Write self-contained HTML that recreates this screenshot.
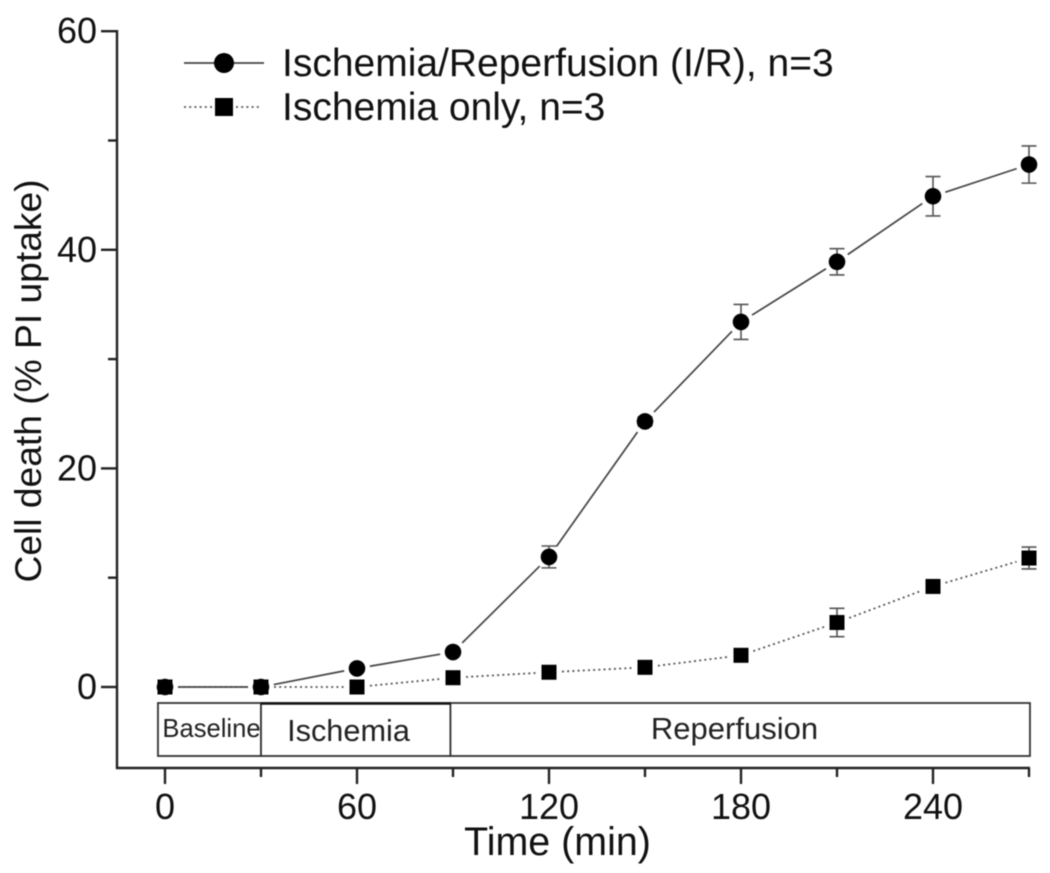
<!DOCTYPE html>
<html lang="en">
<head>
<meta charset="utf-8">
<title>Cell death over time</title>
<style>
html,body{margin:0;padding:0;background:#fff;width:1050px;height:873px;overflow:hidden}
svg{display:block;font-family:"Liberation Sans",sans-serif;filter:blur(0.5px)}
</style>
</head>
<body>
<svg id="chart" width="1050" height="873" viewBox="0 0 1050 873"></svg>
<script>
const times = [0, 30, 60, 90, 120, 150, 180, 210, 240, 270];
const irValues = [0, 0, 1.7, 3.2, 11.9, 24.3, 33.4, 38.9, 44.9, 47.8];
const irErrors = [0, 0, 0, 0, 1, 0.4, 1.6, 1.2, 1.8, 1.7];
const ischemiaValues = [0, 0, 0, 0.85, 1.35, 1.8, 2.9, 5.9, 9.2, 11.8];
const ischemiaErrors = [0, 0, 0, 0, 0, 0, 0, 1.3, 0.5, 1];
const xMajorTicks = [0, 60, 120, 180, 240];
const xMinorTicks = [30, 90, 150, 210, 270];
const yMajorTicks = [0, 20, 40, 60];
const yMinorTicks = [10, 30, 50];
const phaseNames = ["Baseline", "Ischemia", "Reperfusion"];
const phaseEdges = [-2.2, 30, 89.2, 270.3];
const seriesNames = ["Ischemia/Reperfusion (I/R), n=3", "Ischemia only, n=3"];

const NS = "http://www.w3.org/2000/svg";
const svg = document.getElementById("chart");
const xScale = t => 165 + t * 3.2;
const yScale = v => 687 - v * 10.93;
const axisLeft = 117, axisBottom = 768, axisTop = 31;

function add(tag, attrs, text, parent) {
  const el = document.createElementNS(NS, tag);
  for (const k in attrs) el.setAttribute(k, attrs[k]);
  if (text !== undefined) el.textContent = text;
  (parent || svg).appendChild(el);
  return el;
}

/* Axes */
const axisStyle = {stroke: "#222", "stroke-width": 2.4, fill: "none"};
const yAxis = add("line", Object.assign({x1: axisLeft, x2: axisLeft, y1: axisTop - 1, y2: axisBottom + 1}, axisStyle));


const xAxis = add("line", Object.assign({x1: axisLeft - 1, x2: xScale(270) + 1, y1: axisBottom, y2: axisBottom}, axisStyle));



xMajorTicks.forEach(t => {
  const tick = add("line", Object.assign({x1: xScale(t), x2: xScale(t), y1: axisBottom, y2: axisBottom + 16}, axisStyle));
  
  
  const label = add("text", {x: xScale(t), y: 819, "text-anchor": "middle", "font-size": 36, fill: "#111"}, String(t));
  
  
});
xMinorTicks.forEach(t => {
  const tick = add("line", Object.assign({x1: xScale(t), x2: xScale(t), y1: axisBottom, y2: axisBottom + 9}, axisStyle));
  
  
});
yMajorTicks.forEach(v => {
  const tick = add("line", Object.assign({x1: axisLeft - 16, x2: axisLeft, y1: yScale(v), y2: yScale(v)}, axisStyle));
  
  
  const label = add("text", {x: 97, y: yScale(v) + 12, "text-anchor": "end", "font-size": 36, fill: "#111"}, String(v));
  
  
});
yMinorTicks.forEach(v => {
  const tick = add("line", Object.assign({x1: axisLeft - 9, x2: axisLeft, y1: yScale(v), y2: yScale(v)}, axisStyle));
  
  
});

const xTitle = add("text", {x: 557.5, y: 855, "text-anchor": "middle", "font-size": 39.4, fill: "#111"}, "Time (min)");


const yTitle = add("text", {x: 0, y: 0, transform: "translate(41 381) rotate(-90)", "text-anchor": "middle", "font-size": 37.2, fill: "#111"}, "Cell death (% PI uptake)");



/* Phase bar */
const phaseTop = 703, phaseBottom = 756;
const phaseFonts = [25.6, 30.7, 31];
const phaseCenters = [211.5, 348.5, 734.5];
const phaseBaselines = [737, 741, 739];
phaseNames.forEach((name, i) => {
  const x0 = xScale(phaseEdges[i]), x1 = xScale(phaseEdges[i + 1]);
  const box = add("rect", {x: x0, y: phaseTop, width: x1 - x0, height: phaseBottom - phaseTop, fill: "#fff", stroke: "#333", "stroke-width": 1.8});
  
  
  const label = add("text", {x: phaseCenters[i], y: phaseBaselines[i], "text-anchor": "middle", "font-size": phaseFonts[i], fill: "#222"}, name);
  
  
});
const ischemiaTop = add("line", {x1: xScale(phaseEdges[1]), x2: xScale(phaseEdges[2]), y1: phaseTop + 0.5, y2: phaseTop + 0.5, stroke: "#111", "stroke-width": 2.6});



/* Series */
function drawSegments(values, style, gap, name) {
  for (let i = 0; i < values.length - 1; i++) {
    const x0 = xScale(times[i]), y0 = yScale(values[i]);
    const x1 = xScale(times[i + 1]), y1 = yScale(values[i + 1]);
    const len = Math.hypot(x1 - x0, y1 - y0);
    const ux = (x1 - x0) / len, uy = (y1 - y0) / len;
    const seg = add("line", Object.assign({x1: x0 + ux * gap, y1: y0 + uy * gap, x2: x1 - ux * gap, y2: y1 - uy * gap}, style));
    
    
  }
}
function drawErrors(values, errors, name) {
  values.forEach((v, i) => {
    if (!errors[i]) return;
    const x = xScale(times[i]), hi = yScale(v + errors[i]), lo = yScale(v - errors[i]);
    const bar = add("path", {d: `M${x - 7.5} ${hi}H${x + 7.5}M${x} ${hi}V${lo}M${x - 7.5} ${lo}H${x + 7.5}`, stroke: "#555", "stroke-width": 1.6, fill: "none"});
    
    
  });
}
const solidStyle = {stroke: "#444", "stroke-width": 1.7};
const dotStyle = {stroke: "#555", "stroke-width": 1.8, "stroke-dasharray": "2 3.2"};

drawSegments(ischemiaValues, dotStyle, 13, "ischemia-line");
drawErrors(ischemiaValues, ischemiaErrors, "ischemia-error-bar");
drawSegments(irValues, solidStyle, 13, "ir-line");
drawErrors(irValues, irErrors, "ir-error-bar");

ischemiaValues.forEach((v, i) => {
  const m = add("rect", {x: xScale(times[i]) - 7.5, y: yScale(v) - 7.5, width: 15, height: 15, fill: "#000"});
  
  
});
irValues.forEach((v, i) => {
  const m = add("circle", {cx: xScale(times[i]), cy: yScale(v), r: 8.3, fill: "#000"});
  
  
});

/* Legend */
const legendLine1 = add("line", Object.assign({x1: 184, x2: 264, y1: 63, y2: 63}, solidStyle));


const legendMark1 = add("circle", {cx: 224, cy: 63, r: 10, fill: "#000"});


const legendText1 = add("text", {x: 282, y: 76, "font-size": 39, fill: "#111"}, seriesNames[0]);


const legendLine2 = add("line", Object.assign({x1: 184, x2: 262, y1: 107, y2: 107}, dotStyle));


const legendMark2 = add("rect", {x: 215, y: 98, width: 18, height: 18, fill: "#000"});


const legendText2 = add("text", {x: 282, y: 120, "font-size": 39, fill: "#111"}, seriesNames[1]);


</script>
</body>
</html>
